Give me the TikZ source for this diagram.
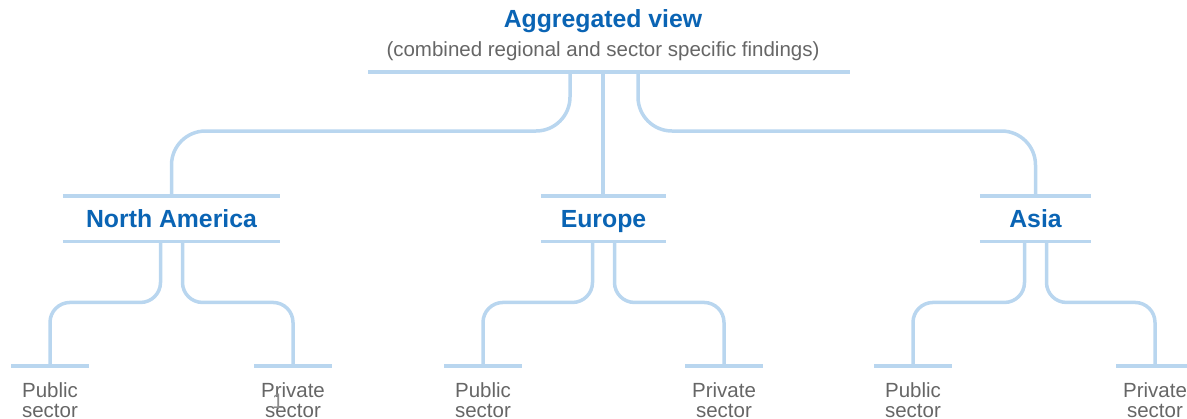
\documentclass[tikz,border=0pt]{standalone}
\usepackage{fontspec}
\setmainfont{Liberation Sans}
\usetikzlibrary{positioning}
\definecolor{barblue}{HTML}{B9D6EF}
\definecolor{headblue}{HTML}{0A64B4}
\definecolor{leafgray}{HTML}{666666}

\begin{document}
\begin{tikzpicture}[x=1pt,y=-1pt,
    bar/.style={draw=barblue,line width=3.5pt},
    trunk/.style={bar,rounded corners=34pt},
    link/.style={bar,rounded corners=20pt},
    region/.style={inner sep=0pt,minimum height=45pt,text height=17pt,text depth=0pt,
      font=\fontsize{24.8}{28}\selectfont\bfseries,text=headblue},
    leaf/.style={anchor=north,inner xsep=0pt,inner ysep=16pt,minimum width=77pt,align=center,
      font=\fontsize{20.5}{20.5}\selectfont,text=leafgray}]
        \useasboundingbox (0,0) rectangle (1187,418);

        \node[anchor=base,font=\fontsize{24.8}{28}\selectfont\bfseries,text=headblue] (title) at (603,27.5) {Aggregated view};
        \node[anchor=base,font=\fontsize{20.5}{24}\selectfont,text=leafgray] (subtitle) at (603,56.5) {(combined regional and sector specific findings)};
        \coordinate (barL) at (368,72);
        \coordinate (barR) at (850,72);
        \coordinate (hub) at (603,72);

        \node[region,minimum width=217pt] (na) at (171.5,218.75) {North America};
        \node[region,minimum width=125pt] (eu) at (603.5,218.75) {Europe};
        \node[region,minimum width=111pt] (as) at (1035.5,218.75) {Asia};

        \node[leaf] (napub) at (50,366) {Public\\sector};
        \node[leaf] (napriv) at (293,366) {Private\\sector};
        \node[leaf] (eupub) at (483,366) {Public\\sector};
        \node[leaf] (eupriv) at (724,366) {Private\\sector};
        \node[leaf] (aspub) at (913,366) {Public\\sector};
        \node[leaf] (aspriv) at (1155,366) {Private\\sector};
        \node[anchor=base,font=\fontsize{21}{21}\selectfont,text=black!45] (pagenum) at (278,408) {1};

        \draw[bar] (barL) -- (barR);
        \foreach \r in {na,eu,as} {
          \draw[bar] (\r.north west) -- (\r.north east);
          \draw[bar] (\r.south west) -- (\r.south east);
        }
        \foreach \l in {napub,napriv,eupub,eupriv,aspub,aspriv}
          \draw[bar] (\l.north west) -- (\l.north east);

        \path[trunk] ([xshift=-33pt]hub) -- ++(0,59) -| (na.north); % to North America
        \path[trunk] (hub) -- (hub|-eu.north);                      % to Europe
        \path[trunk] ([xshift=35pt]hub) -- ++(0,59) -| (as.north);  % to Asia

        \foreach \r in {na,eu,as} {
          \path[link] ([xshift=-11pt]\r.south) -- ++(0,61) -| (\r pub.north);
          \path[link] ([xshift=11pt]\r.south) -- ++(0,61) -| (\r priv.north);
        }
      \end{tikzpicture}
\end{document}
